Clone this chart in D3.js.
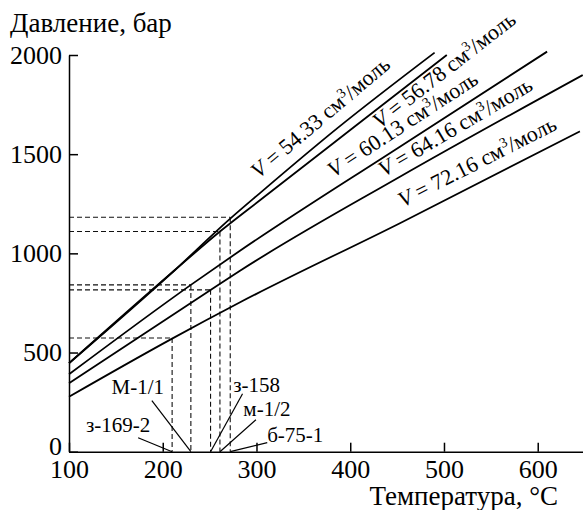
<!DOCTYPE html>
<html>
<head>
<meta charset="utf-8">
<script src="https://cdn.jsdelivr.net/npm/d3@7"></script>
<style>
  body { margin: 0; background: #fff; }
</style>
</head>
<body>
<div id="chart"></div>
<script>
// isochores: temperature (°C) and pressure (bar)
let volumes = ["54.33", "56.78", "60.13", "64.16", "72.16"];
let t5433 = [100, 213, 272, 304, 386, 490];
let p5433 = [446, 916, 1175, 1305, 1630, 2012];
let t5678 = [100, 213, 261, 304, 400, 503];
let p5678 = [446, 916, 1110, 1269, 1622, 2000];
let t6013 = [100, 230, 282, 453, 610];
let p6013 = [390, 841, 1012, 1538, 2017];
let t6416 = [100, 251, 282, 453, 648];
let p6416 = [345, 815, 911, 1386, 1899];
let t7216 = [100, 210, 282, 453, 645];
let p7216 = [277, 570, 752, 1152, 1615];

// samples (homogenization temperature, pressure)
let sampleNames = ["з-169-2", "М-1/1", "з-158", "м-1/2", "б-75-1"];
let sampleT = [210, 230, 251, 261, 272];
let sampleP = [573, 841, 816, 1110, 1182];

let xTicks = [100, 200, 300, 400, 500, 600];
let yTicks = [0, 500, 1000, 1500, 2000];

// layout for the text on the chart
let labelAt = [310, 420, 388, 440, 462];      // T where each V label starts
let labelGap = [11.5, -17.5, 10, 7.7, 12.5];   // px from line to baseline
let sampleLabelDx = [-54, -53, 46, 47, 65];
let sampleLabelDy = [-20, -58, -60, -36, -10];
let leaderDx = [-34, -39, 32, 36, 37];
let leaderDy = [-14, -51, -58, -32, -9];

let serif = "'Liberation Serif'";
let width = 583;
let height = 510;

let x = d3.scaleLinear().domain([100, 650]).range([69, 584.6]);
let y = d3.scaleLinear().domain([0, 2000]).range([451.7, 55]);

let svg = d3.select("#chart")
  .append("svg")
    .attr("width", width)
    .attr("height", height)
    .attr("font-family", serif);

svg.append("rect")
  .attr("width", width)
  .attr("height", height)
  .attr("fill", "#fff");

// dashed guides
let guides = svg.append("g")
  .attr("stroke", "#111")
  .attr("stroke-width", 1.1)
  .attr("stroke-dasharray", "5,3")
  .attr("fill", "none");

sampleT.forEach(function (t, i) {
  guides.append("line")
    .attr("x1", x(100)).attr("x2", x(t))
    .attr("y1", y(sampleP[i])).attr("y2", y(sampleP[i]));
  guides.append("line")
    .attr("x1", x(t)).attr("x2", x(t))
    .attr("y1", y(sampleP[i])).attr("y2", y(0));
});

// isochores
let series = [
  [t5433, p5433],
  [t5678, p5678],
  [t6013, p6013],
  [t6416, p6416],
  [t7216, p7216]
];

let line = d3.line()
  .x(d => x(d[0]))
  .y(d => y(d[1]))
  .curve(d3.curveMonotoneX);

series.forEach(function (s, i) {
  let pts = s[0].map((t, j) => [t, s[1][j]]);
  svg.append("path")
    .attr("d", line(pts))
    .attr("fill", "none")
    .attr("stroke", "#000")
    .attr("stroke-width", 1.8);

  // label along the line
  let interp = d3.scaleLinear().domain(s[0]).range(s[1]);
  let t0 = labelAt[i];
  let px = x(t0), py = y(interp(t0));
  let ang = Math.atan2(y(interp(t0 + 15)) - y(interp(t0 - 15)), x(t0 + 15) - x(t0 - 15)) * 180 / Math.PI;

  let txt = svg.append("text")
    .attr("transform", "translate(" + px + "," + py + ") rotate(" + ang + ")")
    .attr("y", -labelGap[i])
    .attr("font-family", serif)
    .attr("font-size", 22)
    .attr("fill", "#000");
  txt.append("tspan").attr("font-style", "italic").text("V");
  txt.append("tspan").text(" = " + volumes[i] + " см");
  txt.append("tspan").attr("font-size", 14).attr("dy", -8).text("3");
  txt.append("tspan").attr("dy", 8).text("/моль");
});

// sample labels with leaders
sampleT.forEach(function (t, i) {
  let fx = x(t), fy = y(0);
  svg.append("line")
    .attr("x1", fx + leaderDx[i]).attr("y1", fy + leaderDy[i])
    .attr("x2", fx).attr("y2", fy)
    .attr("stroke", "#000")
    .attr("stroke-width", 1.2);
  svg.append("text")
    .attr("x", fx + sampleLabelDx[i])
    .attr("y", fy + sampleLabelDy[i])
    .attr("text-anchor", "middle")
    .attr("font-family", serif)
    .attr("font-size", 21)
    .text(sampleNames[i]);
});

// axes
let xAxis = d3.axisBottom(x)
  .tickValues(xTicks)
  .tickSize(-9)
  .tickSizeOuter(0)
  .tickPadding(8)
  .tickFormat(d3.format("d"));

let yAxis = d3.axisLeft(y)
  .tickValues(yTicks)
  .tickSize(-9)
  .tickSizeOuter(0)
  .tickPadding(7)
  .tickFormat(d3.format("d"));

let gx = svg.append("g")
  .attr("transform", "translate(0," + y(0) + ")")
  .call(xAxis);

let gy = svg.append("g")
  .attr("transform", "translate(" + x(100) + ",0)")
  .call(yAxis);

[gx, gy].forEach(function (g) {
  g.attr("font-family", serif).attr("font-size", 26);
  g.selectAll("path, line").attr("stroke", "#000").attr("stroke-width", 1.5);
  g.selectAll("text")
    .attr("fill", "#000")
    .attr("font-size", 26)
    .attr("font-family", serif);
});

gy.selectAll(".tick text").filter(d => d === 0).attr("dy", "0.12em");

svg.append("text")
  .attr("x", 10)
  .attr("y", 32)
  .attr("font-family", serif)
  .attr("font-size", 27)
  .text("Давление, бар");

svg.append("text")
  .attr("x", 558)
  .attr("y", 505)
  .attr("text-anchor", "end")
  .attr("font-family", serif)
  .attr("font-size", 27)
  .text("Температура, °C");
</script>
</body>
</html>
